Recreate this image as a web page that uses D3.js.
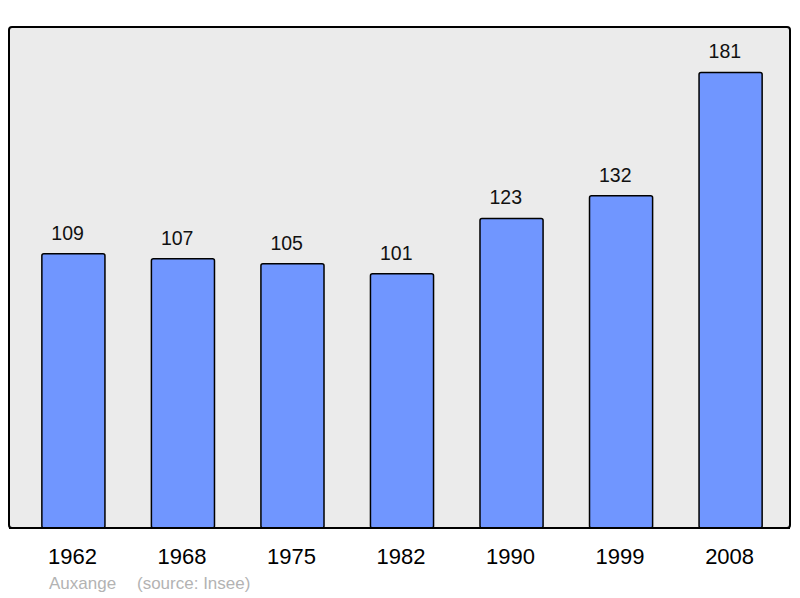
<!DOCTYPE html>
<html>
<head>
<meta charset="utf-8">
<script src="https://cdn.jsdelivr.net/npm/d3@7"></script>
<style>
  body { margin: 0; background: #fff; }
  text { font-family: "Liberation Sans", Arial, sans-serif; }
</style>
</head>
<body>
<div class="chart"></div>
<script>
// data
const years = ["1962", "1968", "1975", "1982", "1990", "1999", "2008"];
const population = [109, 107, 105, 101, 123, 132, 181];
const commune = "Auxange";
const source = "(source: Insee)";

const width = 800, height = 598;
const panel = ({ top: 27, right: 790, bottom: 528, left: 9 });

const svg = d3.select(".chart").append("svg")
    .attr("width", width)
    .attr("height", height);

// scales
const xScale = d3.scaleBand()
    .domain(years)
    .range([panel.left, 795])
    .paddingInner(0.424)
    .paddingOuter(0.30);
const yScale = d3.scaleLinear()
    .domain([0, 200])
    .range([panel.bottom, 24.6]);

// background panel
svg.append("rect")
    .attr("x", panel.left)
    .attr("y", panel.top)
    .attr("width", panel.right - panel.left)
    .attr("height", panel.bottom - panel.top)
    .attr("rx", 3)
    .style("fill", "#ebebeb")
    .style("stroke", "#000")
    .style("stroke-width", 2);

const data = years.map((y, i) => ({ year: y, value: population[i] }));

// bars
svg.selectAll(".bar").data(data)
    .enter().append("rect")
    .attr("class", "bar")
    .attr("x", d => xScale(d.year))
    .attr("y", d => yScale(d.value))
    .attr("width", xScale.bandwidth())
    .attr("height", d => panel.bottom - yScale(d.value))
    .attr("rx", 2)
    .style("fill", "#7096ff")
    .style("stroke", "#000")
    .style("stroke-width", 1.5);

// redraw the bottom border over the bars
svg.append("line")
    .attr("x1", panel.left)
    .attr("x2", panel.right)
    .attr("y1", panel.bottom)
    .attr("y2", panel.bottom)
    .style("stroke", "#000")
    .style("stroke-width", 2);

// value labels (start-anchored a little inside the bar's left edge)
svg.selectAll(".value").data(data)
    .enter().append("text")
    .attr("class", "value")
    .attr("x", d => xScale(d.year) + 9.5)
    .attr("y", d => yScale(d.value) - 14)
    .style("font-size", "19.5px")
    .style("fill", "#111")
    .text(d => d.value);

// x axis
const xAxis = d3.axisBottom(xScale).tickSize(0).tickPadding(0);
svg.append("g")
    .attr("class", "axis x-axis")
    .attr("transform", `translate(-1, 564)`)
    .call(xAxis)
    .call(g => g.select(".domain").remove())
    .call(g => g.selectAll("text")
        .attr("dy", 0)
        .style("font-family", "Liberation Sans, Arial, sans-serif")
        .style("font-size", "22px")
        .style("fill", "#000"));

// footer
svg.append("text")
    .attr("x", 49)
    .attr("y", 589)
    .style("font-size", "17px")
    .style("fill", "#b3b3b3")
    .text(commune);
svg.append("text")
    .attr("x", 137)
    .attr("y", 589)
    .style("font-size", "17px")
    .style("fill", "#b3b3b3")
    .text(source);
</script>
</body>
</html>
